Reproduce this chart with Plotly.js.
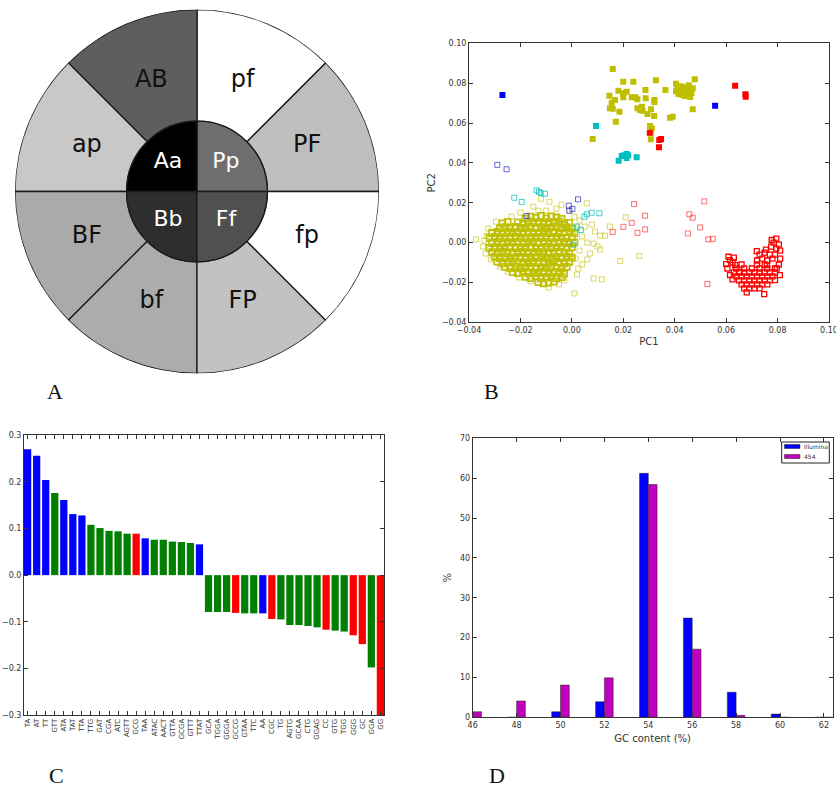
<!DOCTYPE html>
<html><head><meta charset="utf-8">
<script src="https://cdn.plot.ly/plotly-3.0.1.min.js"></script>
<style>html,body{margin:0;padding:0;background:#fff}#chart{width:836px;height:787px}</style>
</head><body><div id="chart"></div>
<script>
// ---------- Panel A : wheel ----------
const wheelOuterLabels = ['PF','pf','AB','ap','BF','bf','FP','fp'];
const wheelOuterTheta  = [22.5,67.5,112.5,157.5,202.5,247.5,292.5,337.5];
const wheelOuterColors = ['#bebebe','#ffffff','#5e5e5e','#c8c8c8','#aaaaaa','#acacac','#c2c2c2','#ffffff'];
const wheelInnerLabels = ['Pp','Aa','Bb','Ff'];
const wheelInnerTheta  = [45,135,225,315];
const wheelInnerColors = ['#6e6e6e','#000000','#2e2e2e','#505050'];

// ---------- Panel B : PCA scatter ----------
const yellowOpenX = [
-0.018,-0.016,-0.014,-0.012,-0.010,-0.008,-0.006,-0.004,
-0.027,-0.025,-0.021,-0.019,-0.017,-0.015,-0.013,-0.011,-0.009,-0.007,-0.005,-0.003,-0.001,
-0.028,-0.026,-0.024,-0.022,-0.020,-0.018,-0.016,-0.014,-0.012,-0.010,-0.008,-0.006,-0.004,-0.002,0.000,
-0.031,-0.029,-0.027,-0.025,-0.023,-0.021,-0.019,-0.017,-0.015,-0.013,-0.011,-0.009,-0.007,-0.005,-0.003,-0.001,0.001,
-0.032,-0.030,-0.028,-0.026,-0.024,-0.022,-0.020,-0.018,-0.016,-0.014,-0.012,-0.010,-0.008,-0.006,-0.004,-0.002,0.000,
-0.031,-0.029,-0.027,-0.025,-0.023,-0.021,-0.019,-0.017,-0.015,-0.013,-0.011,-0.009,-0.007,-0.005,-0.003,-0.001,0.001,
-0.032,-0.030,-0.028,-0.026,-0.024,-0.022,-0.020,-0.018,-0.016,-0.014,-0.012,-0.010,-0.008,-0.006,-0.004,-0.002,0.000,
-0.031,-0.029,-0.027,-0.025,-0.023,-0.021,-0.019,-0.017,-0.015,-0.013,-0.011,-0.009,-0.007,-0.005,-0.003,-0.001,
-0.030,-0.028,-0.026,-0.024,-0.022,-0.020,-0.018,-0.016,-0.014,-0.012,-0.010,-0.008,-0.006,-0.004,-0.002,0.000,
-0.029,-0.027,-0.025,-0.023,-0.021,-0.019,-0.017,-0.015,-0.013,-0.011,-0.009,-0.007,-0.005,-0.003,-0.001,
-0.026,-0.024,-0.022,-0.020,-0.018,-0.016,-0.014,-0.012,-0.010,-0.008,-0.006,-0.004,-0.002,
-0.023,-0.021,-0.019,-0.017,-0.015,-0.013,-0.011,-0.009,-0.007,-0.005,-0.003,
-0.018,-0.016,-0.014,-0.012,-0.010,-0.008,-0.006,-0.004,
-0.013,-0.011,-0.009,-0.007];
const yellowOpenY = [
0.0120,0.0130,0.0124,0.0134,0.0121,0.0131,0.0126,0.0119,
0.0096,0.0104,0.0101,0.0094,0.0106,0.0099,0.0103,0.0095,0.0102,0.0097,0.0105,0.0093,0.0099,
0.0072,0.0078,0.0070,0.0079,0.0074,0.0071,0.0080,0.0073,0.0077,0.0069,0.0076,0.0081,0.0072,0.0078,0.0070,
0.0048,0.0053,0.0046,0.0055,0.0049,0.0052,0.0045,0.0054,0.0050,0.0047,0.0056,0.0048,0.0053,0.0046,0.0051,0.0055,0.0047,
0.0024,0.0028,0.0021,0.0027,0.0023,0.0030,0.0022,0.0026,0.0020,0.0029,0.0024,0.0027,0.0021,0.0028,0.0025,0.0022,0.0027,
-0.0002,0.0003,-0.0004,0.0002,0.0000,0.0004,-0.0003,0.0001,0.0005,-0.0002,0.0003,-0.0005,0.0002,-0.0001,0.0004,-0.0003,0.0001,
-0.0027,-0.0022,-0.0029,-0.0024,-0.0020,-0.0028,-0.0023,-0.0026,-0.0021,-0.0029,-0.0025,-0.0022,-0.0028,-0.0024,-0.0020,-0.0027,-0.0023,
-0.0048,-0.0053,-0.0046,-0.0055,-0.0049,-0.0052,-0.0045,-0.0054,-0.0050,-0.0047,-0.0056,-0.0048,-0.0053,-0.0046,-0.0051,-0.0055,
-0.0072,-0.0078,-0.0070,-0.0079,-0.0074,-0.0071,-0.0080,-0.0073,-0.0077,-0.0069,-0.0076,-0.0081,-0.0072,-0.0078,-0.0070,-0.0075,
-0.0096,-0.0104,-0.0101,-0.0094,-0.0106,-0.0099,-0.0103,-0.0095,-0.0102,-0.0097,-0.0105,-0.0093,-0.0099,-0.0104,-0.0098,
-0.0122,-0.0128,-0.0120,-0.0129,-0.0124,-0.0121,-0.0130,-0.0123,-0.0127,-0.0119,-0.0126,-0.0131,-0.0122,
-0.0148,-0.0153,-0.0146,-0.0155,-0.0149,-0.0152,-0.0145,-0.0154,-0.0150,-0.0147,-0.0156,
-0.0172,-0.0178,-0.0170,-0.0179,-0.0174,-0.0171,-0.0180,-0.0173,
-0.0198,-0.0204,-0.0201,-0.0196];
const yellowSparseX = [-0.0373,-0.0331,-0.0345,-0.0335,-0.0087,-0.0100,-0.0060,-0.0130,-0.0200,-0.0235,0.0058,0.0030,0.0050,0.0078,0.0090,0.0040,0.0060,0.0085,0.0110,0.0100,0.0030,0.0070,0.0060,0.0040,0.0020,0.0010,0.0085,0.0117,0.0188,0.0262,0.0209,0.0129,0.0148,0.0110,-0.0030,-0.0050,-0.0090,-0.0160,-0.0205,-0.0250,-0.0280,-0.0315,-0.0340,-0.0325,-0.0295,-0.0010,0.0010,-0.0150,0.0020,0.0015,0.0025,-0.0120,-0.0040];
const yellowSparseY = [0.0016,0.0033,-0.0020,-0.0055,0.0205,0.0160,0.0170,0.0160,0.0150,0.0130,0.0197,0.0110,0.0080,0.0090,0.0055,0.0030,0.0000,-0.0005,-0.0035,-0.0020,-0.0040,-0.0055,-0.0085,-0.0110,-0.0160,-0.0255,-0.0180,-0.0185,-0.0093,-0.0067,0.0127,0.0035,0.0080,0.0035,-0.0190,-0.0210,-0.0225,-0.0195,-0.0175,-0.0145,-0.0120,-0.0085,0.0010,0.0070,0.0105,0.0160,0.0130,0.0180,0.0070,-0.0080,-0.0130,0.0220,0.0190];
const redOpenX = [
0.066,0.072,0.075,
0.064,0.067,0.070,0.073,0.076,0.079,
0.063,0.065,0.067,0.069,0.071,0.073,0.075,0.077,0.079,
0.064,0.066,0.068,0.070,0.072,0.074,0.076,0.078,
0.065,0.067,0.069,0.071,0.073,0.075,0.077,
0.066,0.068,0.070,0.072,0.074,0.076,
0.067,0.069,0.071,0.073,
0.072,0.074,0.076,0.078,0.073,0.075,0.077,0.079,0.0755,0.0775,0.0795,0.081,0.0785,0.0805,0.0777,0.0795,0.081,0.0805,0.0797,0.0809,0.079,0.0758,0.0719,
0.0609,0.0615,0.060,0.0635,0.0615,0.0652,0.0625,0.063,0.0605,0.0625,
0.0748,0.068];
const redOpenY = [
-0.011,-0.011,-0.011,
-0.013,-0.013,-0.013,-0.013,-0.013,-0.013,
-0.015,-0.015,-0.015,-0.015,-0.015,-0.015,-0.015,-0.015,-0.015,
-0.017,-0.017,-0.017,-0.017,-0.017,-0.017,-0.017,-0.017,
-0.019,-0.019,-0.019,-0.019,-0.019,-0.019,-0.019,
-0.021,-0.021,-0.021,-0.021,-0.021,-0.021,
-0.023,-0.023,-0.023,-0.023,
-0.009,-0.008,-0.009,-0.008,-0.006,-0.005,-0.006,-0.006,-0.0035,-0.002,-0.003,-0.004,0.000,-0.001,0.0013,0.002,-0.008,-0.011,-0.0129,-0.0163,-0.0188,-0.0113,-0.0043,
-0.0071,-0.0088,-0.0108,-0.0113,-0.0163,-0.0147,-0.010,-0.0075,-0.013,-0.0185,
-0.0259,-0.025];
const redSparseX = [0.0242,0.0285,0.0233,0.0200,0.0255,0.0285,0.0159,0.0515,0.0457,0.0470,0.0499,0.0451,0.0531,0.0548,0.0527];
const redSparseY = [0.0193,0.0135,0.0099,0.0079,0.0049,0.0066,0.0053,0.0207,0.0142,0.0125,0.0076,0.0046,0.0016,0.0019,-0.0208];
const cyanOpenX = [-0.0224,-0.0195,-0.0137,-0.0121,-0.0105,-0.0128,0.0049,0.0058,0.0077,0.0107,0.0019,0.0035,0.0006];
const cyanOpenY = [0.0225,0.0204,0.0262,0.0249,0.0245,0.0255,0.0130,0.0142,0.0150,0.0147,0.0080,0.0063,-0.0010];
const blueOpenX = [-0.0290,-0.0254,-0.0176,-0.0012,0.0002,0.0024,-0.0010];
const blueOpenY = [0.0390,0.0368,0.0133,0.0185,0.0169,0.0217,0.0160];
const yellowFilledX = [0.0159,0.0200,0.0239,0.0327,0.0146,0.0181,0.0200,0.0213,0.0168,0.0155,0.0200,0.0233,0.0247,0.0255,0.0286,0.0287,0.0321,0.0321,0.0364,0.0405,0.0478,0.0470,0.0148,0.0159,0.0185,0.0255,0.0265,0.0272,0.0275,0.0308,0.0294,0.0320,0.0382,0.0392,0.0171,0.0304,0.0311,0.0307,0.0307,0.0081,
0.0410,0.0420,0.0430,0.0440,0.0450,0.0460,0.0465,0.0450,0.0430,0.0415,0.0440,0.0455,0.0470,0.0425,0.0460,0.0440,0.0405];
const yellowFilledY = [0.0871,0.0807,0.0807,0.0814,0.0737,0.0762,0.0749,0.0757,0.0715,0.0702,0.0729,0.0729,0.0729,0.0719,0.0766,0.0724,0.0715,0.0705,0.0766,0.0797,0.0819,0.0669,0.0674,0.0672,0.0657,0.0674,0.0665,0.0682,0.0662,0.0669,0.0645,0.0635,0.0627,0.0632,0.0606,0.0585,0.0573,0.0551,0.0518,0.0520,
0.0770,0.0755,0.0770,0.0760,0.0775,0.0765,0.0750,0.0740,0.0740,0.0745,0.0780,0.0790,0.0775,0.0785,0.0730,0.0735,0.0760];
const cyanFilledX = [0.0094,0.0182,0.0194,0.0203,0.0213,0.0219,0.0213,0.0252];
const cyanFilledY = [0.0585,0.0411,0.0435,0.0438,0.0444,0.0438,0.0425,0.0428];
const redFilledX = [0.0635,0.0675,0.0676,0.0340,0.0347,0.0339,0.0303];
const redFilledY = [0.0787,0.0744,0.0732,0.0515,0.0520,0.0478,0.0551];
const blueFilledX = [-0.0270,0.0557];
const blueFilledY = [0.0740,0.0687];
const pcTicks = [-0.04,-0.02,0.00,0.02,0.04,0.06,0.08,0.10];

// ---------- Panel C : word scores ----------
const cLabels = ['TA','AT','TT','GTT','ATA','TAT','TTA','TTG','GAT','CGA','ATC','AGTT','GCG','TAA','ATAC','AACT','GTTA','GCGA','GTTT','TTAT',
                 'GCA','TGGA','GGGA','GCCG','GTAA','TTC','AA','CGC','TG','AGTG','GCAA','CTG','GGAG','CC','GTG','TGG','GGG','GC','GGA','GG'];
const cValues = [0.270,0.256,0.204,0.176,0.161,0.131,0.128,0.108,0.101,0.095,0.094,0.089,0.089,0.079,0.076,0.076,0.072,0.071,0.069,0.066,
                 -0.079,-0.079,-0.079,-0.081,-0.082,-0.082,-0.082,-0.094,-0.095,-0.107,-0.107,-0.109,-0.112,-0.117,-0.119,-0.121,-0.129,-0.148,-0.198,-0.300];
const cGroups = ['b','b','b','g','b','b','b','g','g','g','g','g','r','b','g','g','g','g','g','b',
                 'g','g','g','r','g','g','b','r','g','g','g','g','g','r','g','g','r','r','g','r'];
const cGroupColors = {b:'#0000ff', g:'#007f00', r:'#ff0000'};

// ---------- Panel D : GC content ----------
const dBins = [46,48,50,52,54,56,58,60,62];
const dIllumina = [0,0,1.4,3.9,61.2,24.9,6.3,0.8,0];
const d454 = [1.4,4.1,8.1,9.9,58.4,17.1,0.5,0,0];
const dSeriesNames = ['Illumina','454'];
const dSeriesColors = ['#0000ff','#bf00bf'];

const FONT = 'DejaVu Sans';
const innerR = 0.387;
const traces = [];

traces.push({type:'barpolar', subplot:'polar', theta:wheelOuterTheta, base:innerR,
  r:wheelOuterTheta.map(()=>1-innerR), width:45,
  marker:{color:wheelOuterColors, line:{color:'#1a1a1a', width:1.3}}, showlegend:false, hoverinfo:'skip'});
traces.push({type:'barpolar', subplot:'polar', theta:wheelInnerTheta,
  r:wheelInnerTheta.map(()=>innerR), width:90,
  marker:{color:wheelInnerColors, line:{color:'#1a1a1a', width:1.3}}, showlegend:false, hoverinfo:'skip'});
traces.push({type:'scatterpolar', subplot:'polar', mode:'text', theta:wheelOuterTheta,
  r:wheelOuterTheta.map(()=>0.655), text:wheelOuterLabels,
  textfont:{family:FONT, size:24, color:'#111'}, showlegend:false, hoverinfo:'skip'});
traces.push({type:'scatterpolar', subplot:'polar', mode:'text', theta:wheelInnerTheta,
  r:wheelInnerTheta.map(()=>0.225), text:wheelInnerLabels,
  textfont:{family:FONT, size:22, color:'#ffffff'}, showlegend:false, hoverinfo:'skip'});

function sc(x, y, color, symbol, size, lw, opacity){
  return {type:'scatter', mode:'markers', x:x, y:y, xaxis:'x', yaxis:'y', showlegend:false, hoverinfo:'skip',
    marker:{color:color, symbol:symbol, size:size, opacity:opacity, line:{color:color, width:lw}}};
}
traces.push(sc(yellowSparseX, yellowSparseY, '#bfbf00', 'square-open', 5, 1, 0.6));
traces.push(sc(yellowOpenX, yellowOpenY, '#bfbf00', 'square-open', 6, 1.8, 0.95));
traces.push(sc(redSparseX, redSparseY, '#ff2020', 'square-open', 5, 1, 0.65));
traces.push(sc(redOpenX, redOpenY, '#ff0000', 'square-open', 5, 1.3, 1));
traces.push(sc(cyanOpenX, cyanOpenY, '#00bfbf', 'square-open', 5, 1, 0.75));
traces.push(sc(blueOpenX, blueOpenY, '#3030d0', 'square-open', 5, 1, 0.75));
traces.push(sc(yellowFilledX, yellowFilledY, '#bfbf00', 'square', 6, 0, 1));
traces.push(sc(cyanFilledX, cyanFilledY, '#00bfbf', 'square', 6, 0, 1));
traces.push(sc(redFilledX, redFilledY, '#ff0000', 'square', 6, 0, 1));
traces.push(sc(blueFilledX, blueFilledY, '#0000ff', 'square', 6, 0, 1));

traces.push({type:'bar', x:cLabels, y:cValues, xaxis:'x2', yaxis:'y2', width:0.8,
  marker:{color:cGroups.map(g=>cGroupColors[g]), line:{width:0}}, showlegend:false, hoverinfo:'skip'});

traces.push({type:'bar', name:dSeriesNames[0], x:dBins, y:dIllumina, xaxis:'x3', yaxis:'y3', width:0.4, offset:-0.4,
  marker:{color:dSeriesColors[0], line:{color:'#222', width:0.5}}, showlegend:false, hoverinfo:'skip'});
traces.push({type:'bar', name:dSeriesNames[1], x:dBins, y:d454, xaxis:'x3', yaxis:'y3', width:0.4, offset:0,
  marker:{color:dSeriesColors[1], line:{color:'#222', width:0.5}}, showlegend:false, hoverinfo:'skip'});

const ax = {showline:true, mirror:'ticks', linecolor:'#333', linewidth:1, ticks:'inside', ticklen:4,
  tickcolor:'#333', tickwidth:1, showgrid:false, zeroline:false, ticklabeloverflow:'allow',
  tickfont:{family:FONT, size:8, color:'#333'}};

const letter = (t, x, y) => ({text:t, x:x/836, y:1-y/787, xref:'paper', yref:'paper', showarrow:false,
  font:{family:'Liberation Serif', size:22, color:'#111'}, xanchor:'center', yanchor:'middle'});

// hand-drawn legend for panel D (pixel positions converted to paper fractions)
const px = v => v/836, py = v => 1 - v/787;
const legendShapes = [
  {type:'rect', xref:'paper', yref:'paper', x0:px(781.7), x1:px(829.3), y0:py(463), y1:py(442), line:{color:'#222', width:1}, fillcolor:'#fff'},
  {type:'rect', xref:'paper', yref:'paper', x0:px(784.5), x1:px(800), y0:py(448.5), y1:py(444.5), line:{color:'#222', width:0.5}, fillcolor:dSeriesColors[0]},
  {type:'rect', xref:'paper', yref:'paper', x0:px(784.5), x1:px(800), y0:py(458.5), y1:py(454.5), line:{color:'#222', width:0.5}, fillcolor:dSeriesColors[1]}
];
const legendTexts = dSeriesNames.map((n, i) => ({text:n, x:px(802), y:py(i === 0 ? 446.5 : 456.5), xref:'paper', yref:'paper',
  showarrow:false, xanchor:'left', yanchor:'middle', font:{family:FONT, size:6, color:'#333'}}));

const layout = {
  width:836, height:787, margin:{l:0, r:0, t:0, b:0}, paper_bgcolor:'#fff', plot_bgcolor:'#fff',
  barmode:'overlay', font:{family:FONT, color:'#333'}, showlegend:false,
  polar:{domain:{x:[15/836, 379/836], y:[1-373.5/787, 1-9.5/787]}, bargap:0, bgcolor:'rgba(0,0,0,0)',
    radialaxis:{visible:false, range:[0,1]}, angularaxis:{visible:false, rotation:0, direction:'counterclockwise'}},
  xaxis:Object.assign({}, ax, {domain:[469/836, 829/836], anchor:'y', range:[-0.04,0.1000001], tickvals:pcTicks, tickformat:'.2f',
    title:{text:'PC1', font:{family:FONT, size:10, color:'#333'}, standoff:4}}),
  yaxis:Object.assign({}, ax, {domain:[1-322.3/787, 1-43.3/787], anchor:'x', range:[-0.0400001,0.1000001], tickvals:pcTicks, tickformat:'.2f',
    title:{text:'PC2', font:{family:FONT, size:10, color:'#333'}, standoff:4}}),
  xaxis2:Object.assign({}, ax, {domain:[24/836, 384/836], anchor:'y2', type:'category', range:[-0.4, 39.4], tickangle:-90,
    tickfont:{family:FONT, size:7, color:'#333'}}),
  yaxis2:Object.assign({}, ax, {domain:[1-715/787, 1-435.3/787], anchor:'x2', range:[-0.3,0.3], dtick:0.1, tickformat:'.1f'}),
  xaxis3:Object.assign({}, ax, {domain:[472.7/836, 832.7/836], anchor:'y3', range:[46,62.4], tick0:46, dtick:2,
    title:{text:'GC content (%)', font:{family:FONT, size:10, color:'#333'}, standoff:6}}),
  yaxis3:Object.assign({}, ax, {domain:[1-717.3/787, 1-438.3/787], anchor:'x3', range:[0,70], dtick:10,
    title:{text:'%', font:{family:FONT, size:10, color:'#333'}, standoff:6}}),
  shapes:legendShapes,
  annotations:[letter('A', 55, 391), letter('B', 492, 391), letter('C', 56, 775), letter('D', 497, 775)].concat(legendTexts)
};

Plotly.newPlot('chart', traces, layout, {staticPlot:true, displayModeBar:false});
</script>
</body></html>
